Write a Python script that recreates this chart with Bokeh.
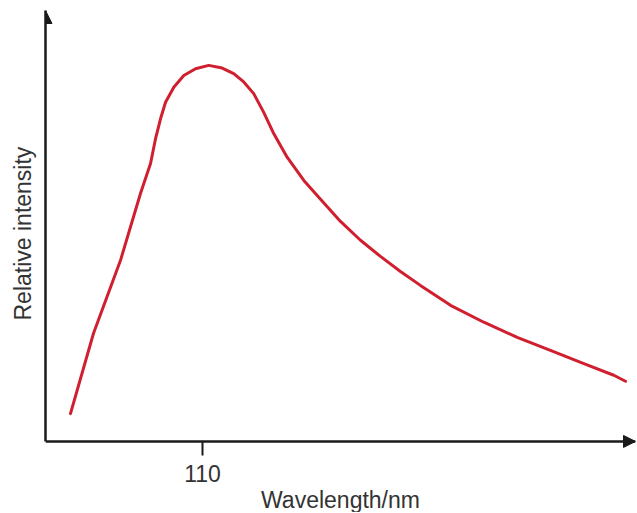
from bokeh.plotting import figure
from bokeh.models import Range1d, FixedTicker, Arrow, NormalHead, Title
from bokeh.embed import file_html
from bokeh.resources import INLINE

# Spectrum (wavelength in nm, relative intensity with peak = 100)
wavelength = [17.5, 33.6, 52.5, 66.6, 73.6, 77.1, 80.6, 84.1, 89.9, 96.9, 105.1,
              114.4, 123.8, 131.9, 138.9, 145.9, 152.9, 160.0, 169.3, 181.0,
              192.7, 206.7, 220.7, 234.7, 248.7, 262.7, 283.8, 307.1, 330.5,
              353.8, 377.2, 398.2, 406.4]
intensity = [7.4, 28.7, 48.1, 66.0, 73.9, 80.5, 85.8, 90.2, 94.2, 97.3, 99.1,
             100.0, 99.3, 97.8, 95.6, 92.5, 87.5, 81.8, 75.6, 69.4,
             64.4, 58.5, 53.5, 49.2, 45.2, 41.5, 36.2, 31.7, 27.7,
             24.2, 20.7, 17.6, 16.0]
x_ticks = [110]
x_label = "Wavelength/nm"
y_label = "Relative intensity"

X_MAX = 413.4
Y_MIN = -18.9
Y_MAX = 114.6
AXIS = "#1a1a1a"
TEXT = "#333333"
RED = "#d0202f"
FONT = "Liberation Sans"

p = figure(width=636, height=512, output_backend="svg", toolbar_location=None,
           x_range=Range1d(0, X_MAX), y_range=Range1d(Y_MIN, Y_MAX),
           min_border_left=45, min_border_right=1, min_border_top=10,
           min_border_bottom=0)
p.outline_line_color = None
p.grid.visible = False
p.background_fill_color = "white"
p.border_fill_color = "white"

p.line(wavelength, intensity, line_color=RED, line_width=3, line_join="round",
       line_cap="round")

# x axis, drawn at intensity 0 so that its labels can sit below it
xa = p.xaxis[0]
xa.fixed_location = 0
xa.ticker = FixedTicker(ticks=x_ticks)
xa.minor_tick_line_color = None
xa.major_tick_in = 0
xa.major_tick_out = 14
xa.major_tick_line_width = 2
xa.major_tick_line_color = AXIS
xa.axis_line_color = AXIS
xa.axis_line_width = 2.5
xa.major_label_text_font = FONT
xa.major_label_text_font_size = "23px"
xa.major_label_text_color = TEXT
xa.major_label_standoff = 10
xa.axis_label = x_label
xa.axis_label_text_font = FONT
xa.axis_label_text_font_size = "23px"
xa.axis_label_text_font_style = "normal"
xa.axis_label_text_color = TEXT
xa.axis_label_standoff = 1

# y axis, from 0 up only
ya = p.yaxis[0]
ya.bounds = (0, Y_MAX)
ya.ticker = FixedTicker(ticks=[])
ya.minor_tick_line_color = None
ya.major_tick_in = 0
ya.major_tick_out = 0
ya.major_label_standoff = 0
ya.axis_line_color = AXIS
ya.axis_line_width = 2.5

# y-axis title, set beside the part of the axis above 0
p.add_layout(Title(text=y_label, align="left", offset=192, vertical_align="middle",
                   standoff=17, text_font=FONT, text_font_size="23px",
                   text_font_style="normal", text_color=TEXT), "left")

# arrow heads at the axis ends
p.add_layout(Arrow(end=NormalHead(size=13, fill_color=AXIS, line_color=AXIS, line_width=1),
                   x_start=0, y_start=Y_MAX - 10, x_end=0, y_end=Y_MAX, line_alpha=0))
p.add_layout(Arrow(end=NormalHead(size=12, fill_color=AXIS, line_color=AXIS, line_width=1),
                   x_start=X_MAX - 20, y_start=0, x_end=X_MAX, y_end=0, line_alpha=0))

open("out.html", "w").write(file_html(p, INLINE))
